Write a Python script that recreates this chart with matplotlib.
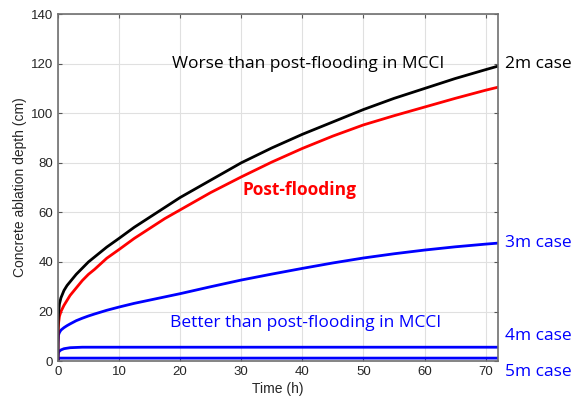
import matplotlib
matplotlib.use("Agg")
import matplotlib.pyplot as plt

t = [0, 0.02, 0.1, 0.25, 0.5, 1, 1.5, 2, 3, 4, 5, 6, 8, 10, 12.5, 15, 17.5, 20,
     25, 30, 35, 40, 45, 50, 55, 60, 65, 70, 72]
case2m = [0, 13, 19, 23, 25.5, 28.5, 30.5, 32, 35, 37.5, 40, 42, 46, 49.5, 54, 58, 62, 66,
          73, 80, 86, 91.5, 96.5, 101.5, 106, 110, 114, 117.6, 119]
postflood = [0, 10, 15, 18, 20, 22.5, 24.5, 26.5, 29.5, 32.5, 35, 37, 41.5, 45, 49.5, 53.5, 57.5, 61,
             68, 74.3, 80.3, 85.8, 90.8, 95.3, 99, 102.5, 106, 109.3, 110.5]
case3m = [0, 7, 10.5, 11.5, 12.5, 13.5, 14.3, 15, 16.3, 17.3, 18.2, 19, 20.5, 21.8, 23.3, 24.6, 25.9, 27.2,
          30, 32.7, 35.1, 37.4, 39.6, 41.6, 43.3, 44.8, 46.1, 47.2, 47.6]
case4m = [0, 2, 3.5, 4, 4.5, 5, 5.2, 5.4, 5.5, 5.6, 5.6, 5.6, 5.6, 5.6, 5.6, 5.6, 5.6, 5.6,
          5.6, 5.6, 5.6, 5.6, 5.6, 5.6, 5.6, 5.6, 5.6, 5.6, 5.6]
case5m = [0, 1, 1.2, 1.2, 1.2, 1.2, 1.2, 1.2, 1.2, 1.2, 1.2, 1.2, 1.2, 1.2, 1.2, 1.2, 1.2, 1.2,
          1.2, 1.2, 1.2, 1.2, 1.2, 1.2, 1.2, 1.2, 1.2, 1.2, 1.2]
xticks = [0, 10, 20, 30, 40, 50, 60, 70]
yticks = [0, 20, 40, 60, 80, 100, 120, 140]

fig = plt.figure(figsize=(5.73, 4.03), dpi=100)
ax = fig.add_axes([0.101, 0.104, 0.768, 0.861])
ax.plot(t, case5m, color="#0000ff", lw=2)
ax.plot(t, case4m, color="#0000ff", lw=2)
ax.plot(t, case3m, color="#0000ff", lw=2)
ax.plot(t, postflood, color="#ff0000", lw=2)
ax.plot(t, case2m, color="black", lw=2)
ax.set_xlim(0, 72)
ax.set_ylim(0, 140)
ax.set_xticks(xticks)
ax.set_yticks(yticks)
ax.grid(True, color="#e0e0e0", lw=0.8)
ax.set_axisbelow(True)
for s in ax.spines.values():
    s.set_color("#707070")
    s.set_linewidth(1.2)
ax.tick_params(direction="in", top=True, right=True, length=3, color="#555555",
               labelsize=9.5, labelcolor="#262626")
for lab in ax.get_xticklabels() + ax.get_yticklabels():
    lab.set_fontfamily("Liberation Sans")
ax.set_xlabel("Time (h)", fontsize=10, color="#262626", family="Liberation Sans", labelpad=3)
ax.set_ylabel("Concrete ablation depth (cm)", fontsize=10, color="#262626", family="Liberation Sans", labelpad=3)

tf = "Open Sans"
fs = 12.5
ax.text(41, 120, "Worse than post-flooding in MCCI", fontsize=fs, color="black", ha="center", va="center", family=tf)
ax.text(39.5, 69, "Post-flooding", fontsize=fs, color="#ff0000", fontweight="bold", ha="center", va="center", family=tf)
ax.text(40.5, 15.5, "Better than post-flooding in MCCI", fontsize=fs, color="#0000ff", ha="center", va="center", family=tf)
ax.text(1.015, 120 / 140, "2m case", transform=ax.transAxes, fontsize=fs, color="black", ha="left", va="center", family=tf)
ax.text(1.015, 47.5 / 140, "3m case", transform=ax.transAxes, fontsize=fs, color="#0000ff", ha="left", va="center", family=tf)
ax.text(1.015, 10 / 140, "4m case", transform=ax.transAxes, fontsize=fs, color="#0000ff", ha="left", va="center", family=tf)
ax.text(1.015, -4.5 / 140, "5m case", transform=ax.transAxes, fontsize=fs, color="#0000ff", ha="left", va="center", family=tf)

fig.savefig("out.png", dpi=100)
